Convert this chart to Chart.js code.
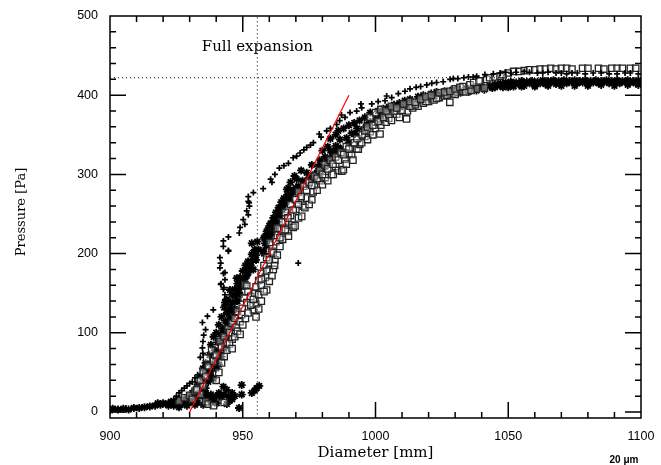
<!DOCTYPE html>
<html>
<head>
<meta charset="utf-8">
<script src="https://cdn.jsdelivr.net/npm/chart.js@4"></script>
<style>
  body { margin: 0; background: #fff; }
  canvas { display: block; }
</style>
</head>
<body>
<canvas id="chart" width="661" height="465"></canvas>
<script>
// tick labels
const xTickVals = [900, 950, 1000, 1050, 1100];
const yTickVals = [0, 100, 200, 300, 400, 500];

// reference lines
const fullExpDiameter = 955.5;
const fullExpPressure = 422;
const fitLine = [[930, 0], [990, 400]];

// '+' markers (upper branch)
const plusPts = [
    [900,3],[902,4],[904,3],[906,5],[908,4],[910,5],[912,6],[914,7],[916,8],[918,9],[920,10],
    [922,12],[924,16],[925,20],[926,24],[927,27],[928,30],[929,33],[930,36],[931,38],[932,43],[933,47],
    [934,69],[935,74],[934.8,81],[935,89],[935.3,97],[936,104],[934.8,113],[936.7,121],[938.9,129],
    [943.3,142],[943.3,148],[942.7,155],[942.9,157],[941.7,161],[941.8,162],[943.3,167],[942.7,175],
    [943.3,176],[941.4,182],[941.7,188],[941.4,195],[944.6,203],[944.6,204],[942.7,209],[942.7,216],
    [944.6,221],[948.7,226],[949,233],[950.8,237],[950.2,243],[952.1,249],[951.5,254],[952.5,260],
    [952.4,264],[952.1,266],[952.1,272],[954,277],[957.7,282],[961,290],[960.5,294],[962.1,300],
    [963.8,308],[965.5,311],[967.2,314],[969,321],[970.3,323],[971.6,327],[973,331],[974.1,334],
    [975.5,337],[976.6,340],[979.5,347],[978.8,351],[981.6,355],[983,358],[985.4,363],[986.5,368],
    [988.5,372],[987.2,375],[990.4,378],[992.9,380],[994.8,384],[994.5,389],[998.6,389],[1001,392],
    [1003.6,393],[1006.1,397],[1004.2,399],[1008.6,402],[1011.1,405],[1013,408],[1015.3,410],[1017,411],
    [1019.3,413],[1021.2,415],[1023,416],[1025.5,417],[1028.1,420],[1029.3,421],[1031,421],[1033.3,422],
    [1035,423],[1036.8,423],[1038.1,424],[1041.2,426],[1044.4,427],[1047,428],[1049,429],[1051,428],
    [1053,429],[1056,430],[1058,429],[1061,428],[1063,428],[1065,429],[1068,428],[1070,428],[1072,427],
    [1074,428],[1076,428],[1079,427],[1082,428],[1085,428],[1088,427],[1091,427],[1094,428],[1096,428],
    [1099,427],[970.9,188]
];

// square markers
const squarePts = [
    [926,14],[928,18],[930,21],[931,16],[932,26],[933,30],[934,22],[935,33],[936,13],[937,10],[939,8],[943,12],
    [932.6,28],[934,40],[935.1,51],[936,45],[936.4,68],[937,58],[938.3,78],[939,64],[940,72],[941.4,89],
    [942,82],[943,95],[944,88],[944.5,105],[945,100],[946,112],[946,92],[947,118],[947.5,107],[948,127],
    [949,114],[949.6,123],[949.8,131],[950.5,144],[950.8,161],[951.5,138],[951.5,159],[952,152],[953,146],
    [954,129],[954.6,150],[955,136],[955,158],[956,166],[957,175],[957,160],[958,185],[958.5,170],[959,154],
    [959,195],[960,180],[960.3,214],[961,203],[961.5,180],[961.5,201],[962.1,192],[962.5,215],[963,223],
    [964,209],[964.5,230],[965,218],[966,240],[967,228],[967.2,222],[968,248],[968.5,236],[969,233],
    [969.7,235],[970,256],[971,245],[972.2,247],[972.8,260],[973.4,258],[974,270],[975,262],[976,268],
    [976.5,278],[977,286],[978,280],[979,292],[980,287],[981,296],[982,292],[983.5,300],[984.1,300],
    [985,310],[986,305],[987.3,304],[987.9,306],[988.5,319],[989,313],[990,326],[991,325],[991.5,318],
    [992.9,332],[993.5,332],[994,338],[994.8,340],[996,348],[997,344],[998,354],[999,350],[1000,358],
    [1001.7,351],[1002,362],[1004,366],[1005,371],[1006,368],[1008,376],[1009,372],[1011.7,370],[1012,380],
    [1014,384],[1016,386],[1018,390],[1020,392],[1022,394],[1024,397],[1026,399],[1028,391],[1029,402],
    [1031,404],[1033,405],[1035,407],[1038,408],[1041,409],
    [940,40],[941,50],[942,62],[943,70],[944,78],[945,86],[946,80],[947,95],[948,102],[949,98],[950,110],
    [951,118],[952,125],[953,135],[954,142],[955,120],[956,148],[956,130],[957,140],[957,168],[958,152],
    [959,178],[960,165],[960,192],[961,172],[962,185],[963,198],[963,232],[964,220],[965,240],[966,230],
    [966,252],[967,245],[968,262],[969,255],[970,268],[971,262],[971,278],[972,272],[973,285],[974,280],
    [975,290],[976,286],[977,298],[978,295],[979,305],[980,300],[981,312],[982,307],[983,318],[984,313],
    [985,322],[986,318],[987,328],[988,325],[989,335],[990,332],[992,340],[993,345],[995,350],[996,355],
    [997,360],[999,362],[1001,367],[1003,372],[1005,376],[1007,380],[1010,381],[1013,386],[1015,388],
    [1019,392],[1023,396],[1027,400],[1030,401],[1034,404],[1036,406],
    [998,372],[1000,378],[1002,382],[1004,380],[1006,386],[1008,384],[1010.5,389],[1013,392],[1014.9,391],
    [1017,395],[1019,398],[1021,400],[1024,403],[1026,404],[1028,405],[1030,408],[1031.8,410],[1033,411],
    [1035.6,413],[1037,416],[1039,418],[1041.9,420],[1043,422],[1045,423],[1046.9,424],[1048,426],
    [1050,428],[1052,430],[1054,430],[1056,431],[1058,432],[1060,432],[1062,433],[1064,433],[1066,434],
    [1068,433],[1070,434],[1072,434],[1074,433],[1078,434],[1080,434],[1084,434],[1086,433],[1089,434],
    [1091,434],[1093,434],[1096,434],[1098,434]
];

// asterisk markers
const starPts = [
    [900,2],[901,4],[903,3],[905,4],[907,3],[909,5],[911,5],[913,6],[915,7],[917,8],[918,11],[919,9],
    [920,11],[921,10],[922,8],[923,13],[924,10],[925,14],[926,11],[927,16],[928,10],[929,17],[930,13],
    [931.4,13],[932,9],[933,20],[935.1,9],[936,16],[938,12],[940.2,11],[942,19],[942.7,32],[944,28],
    [944.6,19],[946,24],[945,14],[948.6,5],[949.6,22],[949.6,34],[953.4,24],[954.5,27],[955.2,30],[956.2,33],
    [924,8],[926,6],[928,14],[929,8],[930,20],[931,24],[932,18],[933,12],[934,28],[935,20],[936,24],
    [937,18],[938,22],[939,16],[940,20],[941,24],[943,22],[944,10],[946,16],[947,20],
    [933,35],[934,45],[935,55],[935.5,40],[936,62],[937,50],[937.5,72],[938,85],[938.5,60],[939,95],
    [939.5,78],[940,100],[940.5,88],[941,110],[941.5,98],[942,120],[942.5,105],[943,132],[943.5,115],
    [944,125],[944.5,140],[945,118],[945.5,133],[946,148],[946.5,128],[947,155],[947.5,140],[948,162],
    [948.5,150],[949,170],[949.5,158],[950,178],[950.5,165],[951,185],[951.5,172],[952,190],[952.5,180],
    [953.4,213],[954,197],[954.6,205],[955,192],[955.5,215],[958,200],[958.5,222],[959,210],[959.5,230],
    [960,218],[960.5,238],[961,225],[961.5,245],[962,232],[962.5,252],[963,240],[963.5,258],[964,248],
    [964.5,265],[965,255],[965.5,270],[966,262],[967,275],[967.5,268],[966.6,281],[967.2,283],[967.8,275],
    [968,290],[969,277],[969.5,298],[970.3,294],[971,285],[972,305],[972.5,292],[974.1,302],[975,296],
    [976,312],[977,300],[978.4,310],[979,318],[980,308],[981,322],[982.2,319],[983,330],[984,325],
    [985,336],[986.6,344],[987,332],[989.1,346],[990,340],[991,352],[992.3,351],[993,358],[995.4,357],
    [996.7,363],[998,366],[1000,370],[1002,374],[1004,377],[1006,380],[1008,383],[1010,386],[1012,388],
    [1015,390],[1017,392],[1020,395],[1022,397],[1025,399],[1027,400],[1030,402],[1032,403],[1035,404],
    [1038,406],[1041,407],[1044,409],[1046.9,412],[1048,410],[1050,413],[1052,411],[1054,414],[1056,412],
    [1058,415],[1060,413],[1062,415],[1064,414],[1066,416],[1068,414],[1070,416],[1072,415],[1074,417],
    [1076,415],[1078,416],[1080,414],[1082,416],[1084,415],[1086,417],[1088,415],[1090,416],[1092,415],
    [1094,417],[1096,416],[1098,415],[1100,416],
    [945.2,154],[944,142],[943.3,138],[954,201],[952.7,186],[947.7,169],[949.6,163],[952.1,176],
    [958.4,213],[957.7,203],[953.4,199],
    [936,30],[937,38],[938,45],[938,52],[939,42],[940,55],[940,66],[941,60],[941,75],[942,70],[942,88],
    [943,80],[943,102],[944,95],[944,112],[945,108],[945,128],[946,120],[946,138],[947,130],[947,147],
    [948,140],[948,155],[949,148],[952,180],[950,160],[953,190],[951,170],[955,198],[956,205],[953,185],
    [958,220],[954,180],[959,228],[960,235],[959,222],[962,245],[961,238],[963,250],[962,242],
    [964,258],[964,254],[966,265],[965,262],[967,272],[966,268],[968,276],[969,280],[970,283],[971,280],
    [976,292],[977,296],[978,302],[979,300],[980,306],[981,310],[982,314],[983,320],[984,326],[985,330],
    [986,334],[980,330],[982,335],[983,345],[985,350],[986,355],[988,358],
    [990,362],[992,365],[994,368],[996,372],[998,378],[1001,380],[1003,383],[1005,385],[1007,388],
    [1009,390],[1011,393],[1013,395],[1016,398],[1018,400],[1021,402],[1023,404],[1026,405],[1029,407],
    [1031,408],[1034,409],[1037,410],[1040,411],[1043,412],[1045,414],[1047,415],[1049,416],[1051,417],
    [1053,416],[1055,418],[1057,417],[1059,418],[1061,417],[1063,419],[1065,418],[1067,419],[1069,418],
    [1071,419],[1073,418],[1075,419],[1077,418],[1079,419],[1081,418],[1083,419],[1085,418],[1087,419],
    [1089,418],[1091,419],[1093,418],[1095,419],[1097,418],[1099,419],
    [1045,410],[1050,410],[1055,411],[1060,411],[1065,412],[1070,412],[1075,412],[1080,412],[1085,413],
    [1090,412],[1095,413],[1099,413]
];

const toXY = pts => pts.map(p => ({ x: p[0], y: p[1] }));

const serif = '"DejaVu Serif", "Liberation Serif", serif';
const sans = '"Liberation Sans", Arial, sans-serif';

// IDL-style box with inward ticks on all four sides, plus titles
const boxPlugin = {
    id: 'box',
    afterDraw(chart) {
        const ctx = chart.ctx;
        const xs = chart.scales.x, ys = chart.scales.y;
        const a = chart.chartArea;
        ctx.save();
        ctx.setLineDash([]);
        ctx.strokeStyle = '#000';
        ctx.lineWidth = 1.5;
        ctx.beginPath();
        ctx.rect(a.left, a.top, a.right - a.left, a.bottom - a.top);
        for (let v = 900; v <= 1100; v += 10) {
            const px = xs.getPixelForValue(v);
            const len = v % 50 === 0 ? 16 : 6;
            ctx.moveTo(px, a.bottom); ctx.lineTo(px, a.bottom - len);
            ctx.moveTo(px, a.top); ctx.lineTo(px, a.top + len);
        }
        for (let v = 0; v <= 500; v += 20) {
            const py = ys.getPixelForValue(v);
            const len = v % 100 === 0 ? 16 : 6;
            ctx.moveTo(a.left, py); ctx.lineTo(a.left + len, py);
            ctx.moveTo(a.right, py); ctx.lineTo(a.right - len, py);
        }
        ctx.stroke();

        ctx.fillStyle = '#000';
        ctx.textAlign = 'center';
        ctx.textBaseline = 'middle';
        ctx.font = '15px ' + serif;
        ctx.fillText('Full expansion', xs.getPixelForValue(fullExpDiameter), ys.getPixelForValue(461));
        ctx.fillText('Diameter [mm]', (a.left + a.right) / 2, 453);
        ctx.save();
        ctx.translate(22, 212);
        ctx.rotate(-Math.PI / 2);
        ctx.font = '13px ' + serif;
        ctx.fillText('Pressure [Pa]', 0, 0);
        ctx.restore();
        ctx.font = 'bold 10px ' + sans;
        ctx.fillText('20 \u03bcm', 624, 460);
        ctx.restore();
    }
};

new Chart(document.getElementById('chart'), {
    type: 'scatter',
    data: {
        datasets: [
            {
                data: [{ x: fullExpDiameter, y: -8 }, { x: fullExpDiameter, y: 500 }],
                showLine: true, borderColor: '#000', borderWidth: 1, borderDash: [1, 3], pointRadius: 0
            },
            {
                data: [{ x: 900, y: fullExpPressure }, { x: 1100, y: fullExpPressure }],
                showLine: true, borderColor: '#000', borderWidth: 1, borderDash: [1, 3], pointRadius: 0
            },
            {
                data: toXY(plusPts),
                pointStyle: 'cross', pointRadius: 3, borderWidth: 1.7, borderColor: '#000'
            },
            {
                data: toXY(squarePts),
                pointStyle: 'rect', pointRadius: 4.5, borderWidth: 1.3, borderColor: '#222',
                backgroundColor: 'rgba(255,255,255,0.4)'
            },
            {
                data: toXY(starPts),
                pointStyle: 'star', pointRadius: 4, borderWidth: 1.8, borderColor: '#000'
            },
            {
                // fitted line, drawn on top of the markers
                data: toXY(fitLine), order: -1,
                showLine: true, borderColor: '#ff0000', borderWidth: 1.2, pointRadius: 0
            }
        ]
    },
    options: {
        responsive: false,
        animation: false,
        events: [],
        layout: { padding: { top: 16, right: 20, left: 0, bottom: 0 } },
        plugins: { legend: { display: false }, tooltip: { enabled: false } },
        scales: {
            x: {
                type: 'linear', min: 900, max: 1100,
                afterBuildTicks: s => { s.ticks = xTickVals.map(v => ({ value: v })); },
                afterFit: s => { s.height = 47; s.paddingLeft = 0; s.paddingRight = 0; },
                grid: { display: false, drawTicks: false },
                border: { display: false },
                ticks: {
                    color: '#000', font: { family: sans, size: 12.5 }, padding: 11,
                    autoSkip: false, maxRotation: 0, callback: v => String(v)
                }
            },
            y: {
                type: 'linear', min: -7.6, max: 500,
                afterBuildTicks: s => { s.ticks = yTickVals.map(v => ({ value: v })); },
                afterFit: s => { s.width = 110; s.paddingTop = 0; s.paddingBottom = 0; },
                grid: { display: false, drawTicks: false },
                border: { display: false },
                ticks: {
                    color: '#000', font: { family: sans, size: 12.5 }, padding: 12,
                    autoSkip: false, callback: v => String(v)
                }
            }
        }
    },
    plugins: [boxPlugin]
});
</script>
</body>
</html>
